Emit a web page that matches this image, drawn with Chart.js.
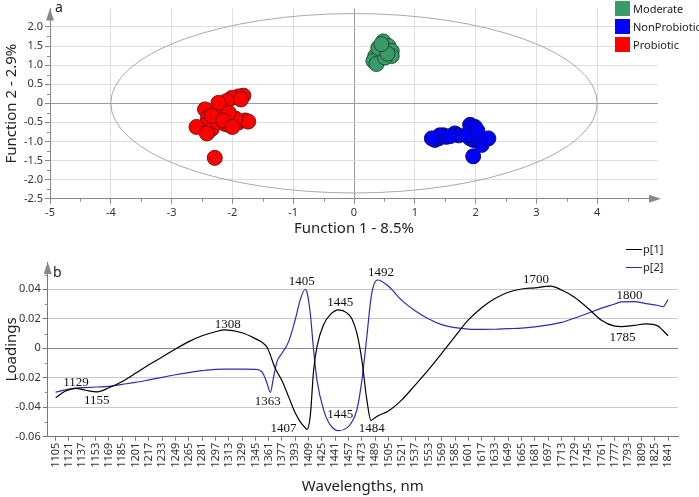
<!DOCTYPE html>
<html>
<head>
<meta charset="utf-8">
<script src="https://cdn.jsdelivr.net/npm/chart.js@4.4.0/dist/chart.umd.min.js"></script>
<style>
body { margin: 0; background: #fff; width: 699px; height: 497px; overflow: hidden; font-family: "Noto Sans", sans-serif; position: relative; }
canvas { position: absolute; left: 0; }
#c1 { top: 0; }
#c2 { top: 240px; }
.lbl { position: absolute; font-size: 14px; color: #222; line-height: 14px; }
.leg { position: absolute; font-size: 11px; color: #222; line-height: 14px; white-space: nowrap; }
.sq { position: absolute; width: 15px; height: 15px; }
.ln { position: absolute; width: 16px; height: 0; border-top: 1.5px solid; }
</style>
</head>
<body>
<canvas id="c1" width="699" height="240"></canvas>
<canvas id="c2" width="699" height="257"></canvas>

<div class="lbl" style="left:55px;top:0px">a</div>
<div class="lbl" style="left:53px;top:265px">b</div>

<div class="sq" style="left:615px;top:1px;background:#3a9a68"></div>
<div class="leg" style="left:633px;top:2px">Moderate</div>
<div class="sq" style="left:615px;top:19px;background:#0000ff"></div>
<div class="leg" style="left:633px;top:20px">NonProbiotic</div>
<div class="sq" style="left:615px;top:37px;background:#ff0000"></div>
<div class="leg" style="left:633px;top:38px">Probiotic</div>

<div class="ln" style="left:626px;top:249px;border-color:#000"></div>
<div class="leg" style="left:643px;top:242px">p[1]</div>
<div class="ln" style="left:626px;top:267px;border-color:#2b2bb8"></div>
<div class="leg" style="left:643px;top:260px">p[2]</div>

<script>
// --- panel a: discriminant scores ---
const modX = [0.48, 0.565, 0.62, 0.62, 0.43, 0.35, 0.32, 0.37, 0.51, 0.40, 0.55, 0.45];
const modY = [1.62, 1.50, 1.37, 1.24, 1.33, 1.24, 1.11, 1.03, 1.20, 1.45, 1.30, 1.55];

const nonX = [1.91, 1.99, 1.33, 1.39, 1.47, 1.52, 1.66, 1.72, 1.96, 1.91, 2.10, 2.21, 1.96, 1.85, 1.41, 1.28, 2.03, 1.58];
const nonY = [-0.565, -0.62, -0.96, -0.92, -0.84, -0.88, -0.79, -0.84, -0.96, -0.92, -1.09, -0.92, -1.39, -0.84, -0.84, -0.92, -0.72, -0.86];

const proX = [-1.82, -1.90, -2.01, -2.10, -2.205, -2.18, -2.45, -2.40, -2.45, -2.59, -2.40, -2.34, -2.12, -2.12, -2.01, -1.90, -1.79, -1.74, -2.04, -2.23, -2.29, -2.29, -1.95, -2.23, -2.34, -2.42, -2.06, -2.15, -1.86, -2.00];
const proY = [0.20, 0.18, 0.14, 0.056, -0.115, -0.20, -0.16, -0.37, -0.58, -0.62, -0.75, -0.67, -0.37, -0.54, -0.50, -0.50, -0.45, -0.48, -0.58, -0.50, -1.43, -0.28, -0.40, 0.01, -0.33, -0.79, -0.25, -0.45, 0.10, -0.62];

const xTicksA = [-5, -4, -3, -2, -1, 0, 1, 2, 3, 4];
const yTicksA = [-2.5, -2, -1.5, -1, -0.5, 0, 0.5, 1, 1.5, 2];
const xMinorA = [-4.5, -3.5, -2.5, -1.5, -0.5, 0.5, 1.5, 2.5, 3.5, 4.5];
const yMinorA = [-2.25, -1.75, -1.25, -0.75, -0.25, 0.25, 0.75, 1.25, 1.75, 2.25];
const ellipse = { cx: 0, cy: 0, rx: 4, ry: 2.35 };

// --- panel b: loadings ---
const wl = [1105, 1117, 1129, 1141, 1155, 1169, 1185, 1201, 1217, 1233, 1249, 1265, 1281, 1297, 1308, 1329, 1345, 1353, 1359, 1363, 1367, 1371, 1377, 1385, 1393, 1399, 1405, 1407, 1411, 1415, 1419, 1427, 1435, 1445, 1455, 1461, 1467, 1473, 1479, 1484, 1488, 1492, 1505, 1521, 1537, 1553, 1569, 1585, 1601, 1617, 1633, 1649, 1665, 1681, 1700, 1713, 1729, 1745, 1761, 1777, 1785, 1800, 1815, 1829, 1835, 1841];
const p1 = [-0.0335, -0.029, -0.0272, -0.0285, -0.0296, -0.0268, -0.0225, -0.017, -0.0112, -0.006, -0.0005, 0.0045, 0.0085, 0.0112, 0.0124, 0.0105, 0.0065, 0.004, 0.0007, -0.0045, -0.011, -0.016, -0.022, -0.033, -0.044, -0.050, -0.054, -0.055, -0.046, -0.015, 0.001, 0.016, 0.0228, 0.026, 0.024, 0.020, 0.0102, -0.008, -0.035, -0.049, -0.0475, -0.046, -0.0425, -0.035, -0.025, -0.0147, -0.0035, 0.008, 0.0192, 0.0275, 0.0337, 0.038, 0.0402, 0.041, 0.0422, 0.0395, 0.0345, 0.027, 0.019, 0.015, 0.0147, 0.0155, 0.0165, 0.015, 0.012, 0.0085];
const p2 = [-0.0298, -0.0282, -0.027, -0.0267, -0.0263, -0.0258, -0.0245, -0.0232, -0.0215, -0.0197, -0.018, -0.0165, -0.0152, -0.0143, -0.0142, -0.0142, -0.0143, -0.016, -0.0237, -0.030, -0.0192, -0.0091, -0.0034, 0.0045, 0.0195, 0.033, 0.040, 0.038, 0.0237, -0.0012, -0.0215, -0.0418, -0.052, -0.0559, -0.054, -0.050, -0.0418, -0.022, 0.008, 0.034, 0.044, 0.0463, 0.042, 0.0325, 0.0255, 0.020, 0.016, 0.014, 0.013, 0.0128, 0.0129, 0.0133, 0.0136, 0.0145, 0.016, 0.0175, 0.0205, 0.0237, 0.0272, 0.030, 0.0315, 0.0316, 0.0303, 0.029, 0.0282, 0.033];

const wlTicks = [1105, 1121, 1137, 1153, 1169, 1185, 1201, 1217, 1233, 1249, 1265, 1281, 1297, 1313, 1329, 1345, 1361, 1377, 1393, 1409, 1425, 1441, 1457, 1473, 1489, 1505, 1521, 1537, 1553, 1569, 1585, 1601, 1617, 1633, 1649, 1665, 1681, 1697, 1713, 1729, 1745, 1761, 1777, 1793, 1809, 1825, 1841];
const yTicksB = [-0.06, -0.04, -0.02, 0, 0.02, 0.04];
const yMinorB = [-0.05, -0.03, -0.01, 0.01, 0.03, 0.05];

// peak labels: text, wavelength, loading (label centre)
const peakText = ["1129", "1155", "1308", "1363", "1405", "1407", "1445", "1445", "1484", "1492", "1700", "1800", "1785"];
const peakX = [1129.4, 1154.3, 1311.9, 1360, 1400.9, 1378.7, 1446.9, 1446.9, 1485, 1495.9, 1682.3, 1794.8, 1786.4];
const peakY = [-0.0233, -0.0355, 0.0163, -0.0362, 0.0452, -0.0547, 0.0309, -0.0452, -0.0547, 0.0515, 0.0463, 0.0355, 0.0072];

const sans = "'Noto Sans', sans-serif";
const pts = (xs, ys) => xs.map((v, i) => ({ x: v, y: ys[i] }));

const ellipsePlugin = {
    id: "ellipse",
    beforeDatasetsDraw(chart) {
        const { ctx, scales: { x, y } } = chart;
        const cx = x.getPixelForValue(ellipse.cx), cy = y.getPixelForValue(ellipse.cy);
        const rx = x.getPixelForValue(ellipse.cx + ellipse.rx) - cx;
        const ry = cy - y.getPixelForValue(ellipse.cy + ellipse.ry);
        ctx.save();
        ctx.strokeStyle = "#a8a8a8";
        ctx.lineWidth = 1;
        ctx.beginPath();
        ctx.ellipse(cx, cy, rx, ry, 0, 0, Math.PI * 2);
        ctx.stroke();
        ctx.restore();
    }
};

// short ticks between the labelled ones
function minorTicks(xs, ys) {
    return {
        id: "minor",
        afterDraw(chart) {
            const { ctx, chartArea: a, scales: { x, y } } = chart;
            ctx.save();
            ctx.strokeStyle = "#888";
            ctx.lineWidth = 1;
            ctx.beginPath();
            xs.forEach(v => {
                const px = Math.round(x.getPixelForValue(v)) + 0.5;
                ctx.moveTo(px, a.bottom);
                ctx.lineTo(px, a.bottom + 3);
            });
            ys.forEach(v => {
                const py = Math.round(y.getPixelForValue(v)) + 0.5;
                if (py < a.top + 12) return;
                ctx.moveTo(a.left, py);
                ctx.lineTo(a.left - 3, py);
            });
            ctx.stroke();
            ctx.restore();
        }
    };
}

function arrowUp(ctx, x, y) {
    ctx.beginPath();
    ctx.moveTo(x, y);
    ctx.lineTo(x - 4, y + 12);
    ctx.lineTo(x + 4, y + 12);
    ctx.closePath();
    ctx.fill();
}

const arrowsA = {
    id: "arrowsA",
    afterDraw(chart) {
        const { ctx, chartArea: a } = chart;
        ctx.save();
        ctx.fillStyle = "#888";
        arrowUp(ctx, a.left, a.top);
        ctx.beginPath();
        ctx.moveTo(a.right + 3, a.bottom);
        ctx.lineTo(a.right - 9, a.bottom - 4);
        ctx.lineTo(a.right - 9, a.bottom + 4);
        ctx.closePath();
        ctx.fill();
        ctx.restore();
    }
};

new Chart(document.getElementById("c1"), {
    type: "scatter",
    data: {
        datasets: [
            { label: "Moderate", data: pts(modX, modY), backgroundColor: "#3a9a68", borderColor: "#1d4d34" },
            { label: "NonProbiotic", data: pts(nonX, nonY), backgroundColor: "#0000ff", borderColor: "#10106a" },
            { label: "Probiotic", data: pts(proX, proY), backgroundColor: "#ff0000", borderColor: "#7a1010" }
        ]
    },
    options: {
        responsive: false,
        animation: false,
        layout: { padding: { top: 3, right: 41, left: 0, bottom: 0 } },
        plugins: { legend: { display: false }, tooltip: { enabled: false } },
        elements: { point: { radius: 7.5, borderWidth: 1 } },
        scales: {
            x: {
                type: "linear", min: -5, max: 5,
                afterBuildTicks: s => { s.ticks = xTicksA.map(v => ({ value: v })); },
                afterFit: s => { s.height = 41.3; },
                grid: { color: c => (c.tick && c.tick.value === 0) ? "#9a9a9a" : "#dedede", tickLength: 5, tickColor: "#888" },
                border: { color: "#888" },
                ticks: { font: { size: 11, family: sans }, color: "#333", padding: 3, maxRotation: 0 },
                title: { display: true, text: "Function 1 - 8.5%", font: { size: 15, family: sans }, color: "#222", padding: { top: 0, bottom: 2 } }
            },
            y: {
                type: "linear", min: -2.5, max: 2.48,
                afterBuildTicks: s => { s.ticks = yTicksA.map(v => ({ value: v })); },
                afterFit: s => { s.width = 50; },
                grid: { color: c => (c.tick && c.tick.value === 0) ? "#9a9a9a" : "#dedede", tickLength: 5, tickColor: "#888" },
                border: { color: "#888" },
                ticks: { font: { size: 11, family: sans }, color: "#333", padding: 2 },
                title: { display: true, text: "Function 2 - 2.9%", font: { size: 15, family: sans }, color: "#222", padding: { top: 3, bottom: 0 } }
            }
        }
    },
    plugins: [ellipsePlugin, arrowsA, minorTicks(xMinorA, yMinorA)]
});

const peaksPlugin = {
    id: "peaks",
    afterDatasetsDraw(chart) {
        const { ctx, scales: { x, y } } = chart;
        ctx.save();
        ctx.font = "13px 'Liberation Serif', 'Times New Roman', serif";
        ctx.fillStyle = "#111";
        ctx.textAlign = "center";
        ctx.textBaseline = "middle";
        peakText.forEach((t, i) => {
            ctx.fillText(t, x.getPixelForValue(peakX[i]), y.getPixelForValue(peakY[i]));
        });
        ctx.restore();
    }
};

const arrowsB = {
    id: "arrowsB",
    afterDraw(chart) {
        const { ctx, chartArea: a } = chart;
        ctx.save();
        ctx.fillStyle = "#888";
        arrowUp(ctx, a.left, a.top);
        ctx.restore();
    }
};

new Chart(document.getElementById("c2"), {
    type: "line",
    data: {
        datasets: [
            { label: "p[1]", data: pts(wl, p1), borderColor: "#000", borderWidth: 1.2, pointRadius: 0, cubicInterpolationMode: "monotone" },
            { label: "p[2]", data: pts(wl, p2), borderColor: "#2b2bb8", borderWidth: 1.2, pointRadius: 0, cubicInterpolationMode: "monotone" }
        ]
    },
    options: {
        responsive: false,
        animation: false,
        layout: { padding: { top: 22, right: 21, left: 0, bottom: 0 } },
        plugins: { legend: { display: false }, tooltip: { enabled: false } },
        scales: {
            x: {
                type: "linear", min: 1095.4, max: 1853,
                afterBuildTicks: s => { s.ticks = wlTicks.map(v => ({ value: v })); },
                afterFit: s => { s.height = 60.3; },
                grid: { drawOnChartArea: false, tickLength: 4, tickColor: "#777" },
                border: { color: "#777" },
                ticks: { font: { size: 11, family: sans }, color: "#333", padding: 2, autoSkip: false, minRotation: 90, maxRotation: 90, callback: v => String(v) },
                title: { display: true, text: "Wavelengths, nm", font: { size: 15, family: sans }, color: "#222", padding: { top: 0, bottom: 1 } }
            },
            y: {
                type: "linear", min: -0.06, max: 0.0585,
                afterBuildTicks: s => { s.ticks = yTicksB.map(v => ({ value: v })); },
                afterFit: s => { s.width = 47.7; },
                grid: { color: c => (c.tick && c.tick.value === 0) ? "#8a8a8a" : "#c8c8c8", tickLength: 5, tickColor: "#777" },
                border: { color: "#777" },
                ticks: { font: { size: 11, family: sans }, color: "#333", padding: 2, callback: v => v === 0 ? "0" : v.toFixed(2) },
                title: { display: true, text: "Loadings", font: { size: 15, family: sans }, color: "#222", padding: { top: 3, bottom: 0 } }
            }
        }
    },
    plugins: [peaksPlugin, arrowsB, minorTicks([], yMinorB)]
});
</script>
</body>
</html>
